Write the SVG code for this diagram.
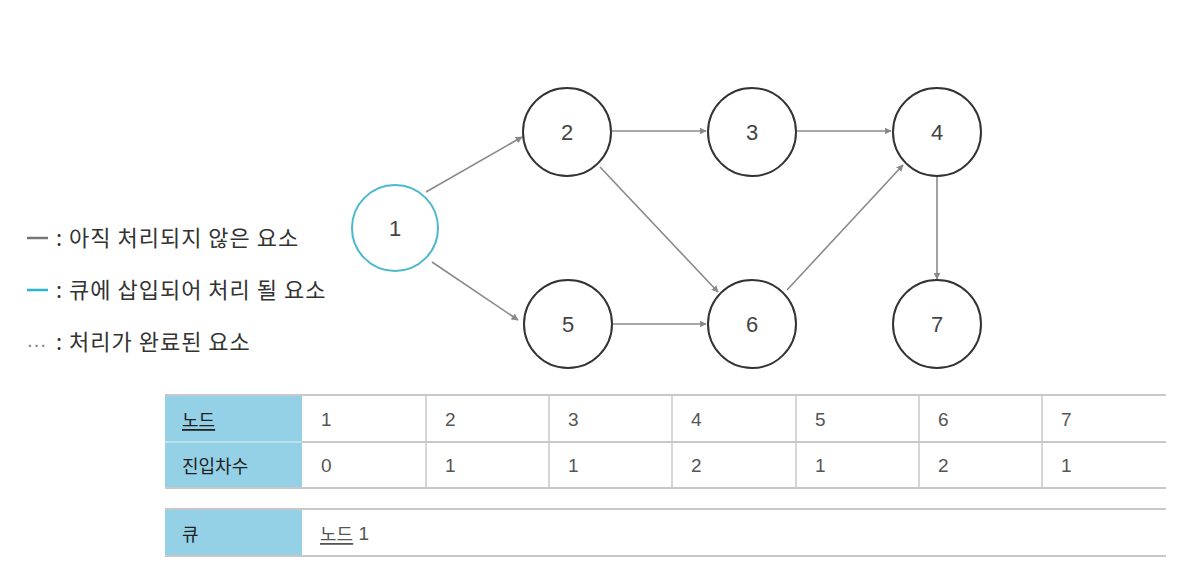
<svg xmlns="http://www.w3.org/2000/svg" width="1189" height="570" viewBox="0 0 1189 570">
<style>
.node circle{fill:#fff;stroke:#333;stroke-width:2}
.node text{font-family:"Liberation Sans",Arial,sans-serif;font-size:22px;fill:#444;text-anchor:middle;dominant-baseline:central}
.edge{stroke:#8a8a8a;stroke-width:1.6;fill:none;marker-end:url(#ah)}
.lg{font-family:"Noto Sans CJK KR","Noto Sans",sans-serif;font-size:22px;letter-spacing:1px;fill:#333}
.hd{fill:#94d1e6}
.rule{stroke:#c8c8c8;stroke-width:2}
.vr{stroke:#c8c8c8;stroke-width:1.5}
.th{font-family:"Noto Sans CJK KR","Noto Sans",sans-serif;font-size:18px;fill:#222;dominant-baseline:central}
.td{font-family:"Liberation Sans",Arial,"Noto Sans CJK KR",sans-serif;font-size:19px;fill:#555;dominant-baseline:central}
</style>
<defs>
<marker id="ah" viewBox="0 0 10 10" refX="9" refY="5" markerWidth="7" markerHeight="7" orient="auto" markerUnits="userSpaceOnUse">
<path d="M0,0 L10,5 L0,10 z" fill="#8a8a8a"/>
</marker>
</defs>
<rect width="1189" height="570" fill="#fff"/>
<g id="connectors">
<line class="edge" x1="426" y1="192" x2="522" y2="137"/>
<line class="edge" x1="432" y1="262" x2="518" y2="320"/>
<line class="edge" x1="612" y1="131" x2="706" y2="131"/>
<line class="edge" x1="600" y1="167" x2="718" y2="292"/>
<line class="edge" x1="612" y1="324" x2="706" y2="324"/>
<line class="edge" x1="797" y1="131" x2="891" y2="131"/>
<line class="edge" x1="787" y1="290" x2="903" y2="165"/>
<line class="edge" x1="937" y1="176" x2="937" y2="279"/>
</g>
<g id="node1" class="node"><circle cx="395" cy="228" r="43" style="stroke:#4bb8cc"/><text x="395" y="228">1</text></g>
<g id="node2" class="node"><circle cx="567" cy="132" r="44"/><text x="567" y="132">2</text></g>
<g id="node3" class="node"><circle cx="752" cy="132" r="44"/><text x="752" y="132">3</text></g>
<g id="node4" class="node"><circle cx="937" cy="132" r="44"/><text x="937" y="132">4</text></g>
<g id="node5" class="node"><circle cx="568" cy="324" r="44"/><text x="568" y="324">5</text></g>
<g id="node6" class="node"><circle cx="752" cy="324" r="44"/><text x="752" y="324">6</text></g>
<g id="node7" class="node"><circle cx="937" cy="324" r="44"/><text x="937" y="324">7</text></g>
<g id="legend">
<line x1="27" y1="238" x2="48" y2="238" stroke="#777" stroke-width="2.5"/>
<text class="lg" x="56" y="246">: 아직 처리되지 않은 요소</text>
<line x1="27" y1="290" x2="48" y2="290" stroke="#2bb3d1" stroke-width="2.5"/>
<text class="lg" x="56" y="298">: 큐에 삽입되어 처리 될 요소</text>
<text x="26" y="347" style="font-family:'Liberation Sans',sans-serif;font-size:21px;fill:#888">…</text>
<text class="lg" x="56" y="350">: 처리가 완료된 요소</text>
</g>
<g id="indegree-table">
<rect class="hd" x="165" y="396" width="137" height="92"/>
<line x1="165" y1="442" x2="302" y2="442" stroke="#c6e6f1" stroke-width="1.5"/>
<line class="rule" x1="165" y1="395" x2="1166" y2="395"/>
<line class="rule" x1="302" y1="442" x2="1166" y2="442"/>
<line class="rule" x1="165" y1="488" x2="1166" y2="488"/>
<line class="vr" x1="426" y1="396" x2="426" y2="488"/>
<line class="vr" x1="549" y1="396" x2="549" y2="488"/>
<line class="vr" x1="672" y1="396" x2="672" y2="488"/>
<line class="vr" x1="796" y1="396" x2="796" y2="488"/>
<line class="vr" x1="919" y1="396" x2="919" y2="488"/>
<line class="vr" x1="1042" y1="396" x2="1042" y2="488"/>
<text class="th" x="182" y="419" text-decoration="underline">노드</text>
<text class="th" x="182" y="465">진입차수</text>
<text class="td" x="321" y="419">1</text>
<text class="td" x="445" y="419">2</text>
<text class="td" x="568" y="419">3</text>
<text class="td" x="691" y="419">4</text>
<text class="td" x="815" y="419">5</text>
<text class="td" x="938" y="419">6</text>
<text class="td" x="1061" y="419">7</text>
<text class="td" x="321" y="465">0</text>
<text class="td" x="445" y="465">1</text>
<text class="td" x="568" y="465">1</text>
<text class="td" x="691" y="465">2</text>
<text class="td" x="815" y="465">1</text>
<text class="td" x="938" y="465">2</text>
<text class="td" x="1061" y="465">1</text>
</g>
<g id="queue-table">
<rect class="hd" x="165" y="510" width="137" height="46"/>
<line class="rule" x1="165" y1="509" x2="1166" y2="509"/>
<line class="rule" x1="165" y1="556" x2="1166" y2="556"/>
<text class="th" x="182" y="533">큐</text>
<text class="td" x="320" y="533"><tspan text-decoration="underline" style="font-family:'Noto Sans CJK KR',sans-serif;font-size:18px">노드</tspan> 1</text>
</g>
</svg>
